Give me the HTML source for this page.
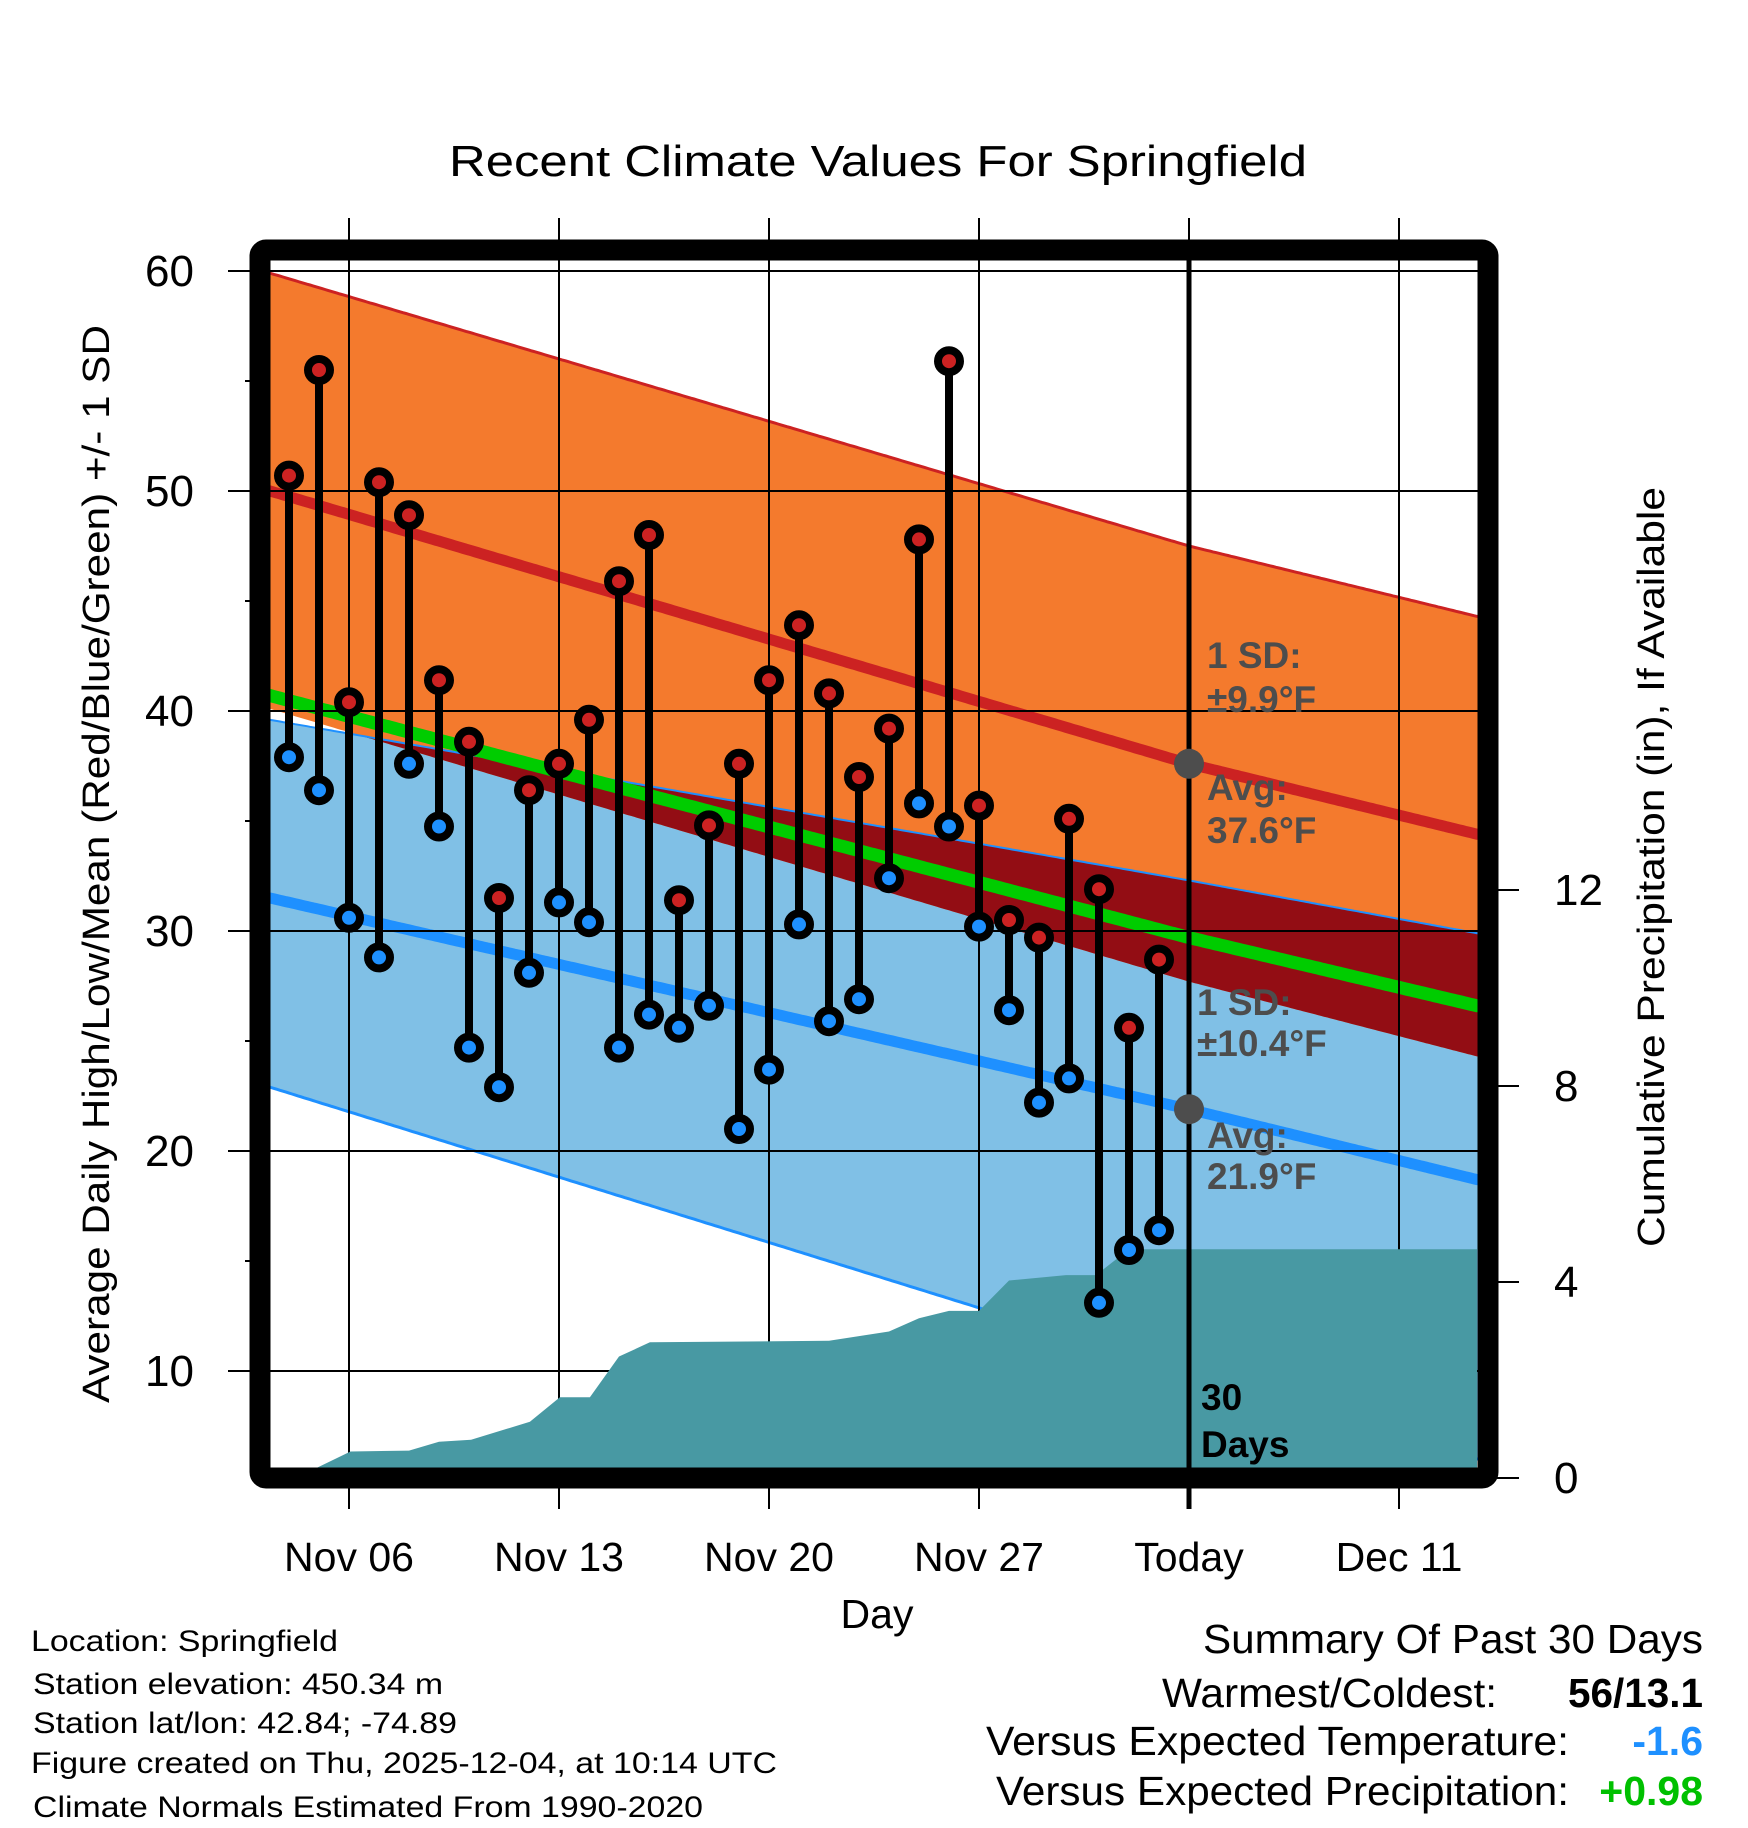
<!DOCTYPE html>
<html><head><meta charset="utf-8"><style>
html,body{margin:0;padding:0;background:#fff;}
svg{display:block;font-family:"Liberation Sans",sans-serif;}
</style></head><body>
<svg id="chart" width="1748" height="1828" viewBox="0 0 1748 1828" xmlns="http://www.w3.org/2000/svg">
<defs><clipPath id="plotclip"><rect x="270" y="260" width="1208" height="1208"/></clipPath></defs>
<text x="878" y="176" text-anchor="middle" font-size="44" textLength="858" lengthAdjust="spacingAndGlyphs">Recent Climate Values For Springfield</text>
<g id="fills" clip-path="url(#plotclip)"></g>
<g id="grid"></g>
<g id="precip" clip-path="url(#plotclip)"></g>
<g id="marks"></g>
<g id="annot"></g>
<rect x="260" y="250" width="1228" height="1228" rx="6" fill="none" stroke="#000" stroke-width="21"/>
<text transform="translate(109,864) rotate(-90)" text-anchor="middle" font-size="38" textLength="1078" lengthAdjust="spacingAndGlyphs">Average Daily High/Low/Mean (Red/Blue/Green) +/- 1 SD</text>
<text transform="translate(1664,867) rotate(-90)" text-anchor="middle" font-size="38" textLength="760" lengthAdjust="spacingAndGlyphs">Cumulative Precipitation (in), If Available</text>
<text x="877" y="1628" text-anchor="middle" font-size="41">Day</text>
<g font-size="30">
<text x="31" y="1651" textLength="307" lengthAdjust="spacingAndGlyphs">Location: Springfield</text>
<text x="33" y="1694" textLength="410" lengthAdjust="spacingAndGlyphs">Station elevation: 450.34 m</text>
<text x="33" y="1733" textLength="424" lengthAdjust="spacingAndGlyphs">Station lat/lon: 42.84; -74.89</text>
<text x="31" y="1773" textLength="746" lengthAdjust="spacingAndGlyphs">Figure created on Thu, 2025-12-04, at 10:14 UTC</text>
<text x="33" y="1817" textLength="670" lengthAdjust="spacingAndGlyphs">Climate Normals Estimated From 1990-2020</text>
</g>
<g font-size="41" text-anchor="end">
<text x="1703" y="1653" textLength="500" lengthAdjust="spacingAndGlyphs">Summary Of Past 30 Days</text>
<text x="1497" y="1707" textLength="335" lengthAdjust="spacingAndGlyphs">Warmest/Coldest:</text>
<text x="1703" y="1707" font-weight="bold" textLength="135" lengthAdjust="spacingAndGlyphs">56/13.1</text>
<text x="1569" y="1755" textLength="583" lengthAdjust="spacingAndGlyphs">Versus Expected Temperature:</text>
<text x="1703" y="1755" font-weight="bold" fill="#1e90ff">-1.6</text>
<text x="1569" y="1805" textLength="573" lengthAdjust="spacingAndGlyphs">Versus Expected Precipitation:</text>
<text x="1703" y="1805" font-weight="bold" fill="#00c000">+0.98</text>
</g>
</svg>
<script>
// ---- data ----
const dayNums = [4,5,6,7,8,9,10,11,12,13,14,15,16,17,18,19,20,21,22,23,24,25,26,27,28,29,30,31,32,33];
const highs = [50.7,55.5,40.4,50.4,48.9,41.4,38.6,31.5,36.4,37.6,39.6,45.9,48.0,31.4,34.8,37.6,41.4,43.9,40.8,37.0,39.2,47.8,55.9,35.7,30.5,29.7,35.1,31.9,25.6,28.7];
const lows = [37.9,36.4,30.6,28.8,37.6,34.75,24.7,22.9,28.1,31.3,30.4,24.7,26.2,25.6,26.6,21.0,23.7,30.3,25.9,26.9,32.4,35.8,34.75,30.2,26.4,22.2,23.3,13.1,15.5,16.4];
const normDays = [3.37,34,43.6];
const normHigh = [50.0,37.6,34.4];
const normHighPlus = [59.9,47.5,44.3];
const normHighMinus = [40.1,27.7,24.3];
const normLow = [31.5,21.9,18.7];
const normLowPlus = [39.6,32.3,29.9];
const normLowMinus = [22.9,9.9,6.0];
const normMean = [40.7,29.7,26.6];
const precipDays = [3.37,4.9,6.05,8.0,9.0,10.07,12.03,13.03,14.03,15.0,16.03,22.0,24.0,25.0,26.0,27.0,28.0,29.9,30.9,32.0,43.6];
const precipVals = [0,0.2,0.54,0.56,0.74,0.78,1.15,1.65,1.65,2.48,2.77,2.80,2.99,3.26,3.41,3.41,4.03,4.14,4.14,4.67,4.67];
const yTicks = [10,20,30,40,50,60];
const yMinor = [15,25,35,45,55];
const pTicks = [0,4,8,12];
const xTickDays = [6,13,20,27,34,41];
const xTickLabels = ["Nov 06","Nov 13","Nov 20","Nov 27","Today","Dec 11"];
const todayDay = 34;
const todayHighAvg = 37.6, todayLowAvg = 21.9;

// ---- scales ----
const X = d => 349 + (d - 6) * 30;
const Y = v => 271 + (60 - v) * 22;
const P = p => 1478 - p * 49;
const NS = "http://www.w3.org/2000/svg";
function mk(tag, attrs, parent){const el=document.createElementNS(NS,tag);for(const k in attrs)el.setAttribute(k,attrs[k]);parent.appendChild(el);return el;}
function interp(ds, vs, d){for(let i=0;i<ds.length-1;i++){if(d<=ds[i+1]){const t=(d-ds[i])/(ds[i+1]-ds[i]);return vs[i]+t*(vs[i+1]-vs[i]);}}return vs[vs.length-1];}
const sampleDays=[];for(let d=3.2;d<=43.8;d+=0.1)sampleDays.push(d);
function lineD(vs){return sampleDays.map((d,i)=>(i?'L':'M')+X(d).toFixed(1)+','+Y(interp(normDays,vs,d)).toFixed(1)).join('');}
function bandD(tp,bt){let s=sampleDays.map((d,i)=>(i?'L':'M')+X(d).toFixed(1)+','+Y(interp(normDays,tp,d)).toFixed(1)).join('');
 s+=sampleDays.slice().reverse().map(d=>'L'+X(d).toFixed(1)+','+Y(interp(normDays,bt,d)).toFixed(1)).join('');return s+'Z';}

const fills=document.getElementById('fills');
let e;
e=mk('path',{d:bandD(normLowPlus,normLowMinus),fill:'#80c0e6'},fills);


e=mk('path',{d:bandD(normHighPlus,normHighMinus),fill:'#f47a2d'},fills);


let ovTop=[],ovBot=[];
sampleDays.forEach(d=>{const t=Math.min(interp(normDays,normHighPlus,d),interp(normDays,normLowPlus,d));const b=Math.max(interp(normDays,normHighMinus,d),interp(normDays,normLowMinus,d));if(t>b){ovTop.push([X(d),Y(t)]);ovBot.push([X(d),Y(b)]);}});
if(ovTop.length){let s=ovTop.map((p,i)=>(i?'L':'M')+p[0].toFixed(1)+','+p[1].toFixed(1)).join('')+ovBot.reverse().map(p=>'L'+p[0].toFixed(1)+','+p[1].toFixed(1)).join('')+'Z';
e=mk('path',{d:s,fill:'#930d14'},fills);

}
const lines=[[normHighPlus,'#cc2222',3,'high-plus-sd-line'],[normLowPlus,'#1e90ff',2,'low-plus-sd-line'],[normLowMinus,'#1e90ff',3,'low-minus-sd-line'],[normHigh,'#cc2222',11,'mean-high-line'],[normLow,'#1e90ff',11,'mean-low-line'],[normMean,'#00cc00',13,'mean-temp-line']];
lines.forEach(L=>{e=mk('path',{d:lineD(L[0]),fill:'none',stroke:L[1],'stroke-width':L[2]},fills);

});

const grid=document.getElementById('grid');
yTicks.forEach(v=>{e=mk('line',{x1:228,x2:1478,y1:Y(v),y2:Y(v),stroke:'#000','stroke-width':2},grid);


e=mk('text',{x:194,y:Y(v)+15,'text-anchor':'end','font-size':44},grid);e.textContent=v;

});
yMinor.forEach(v=>{e=mk('line',{x1:245,x2:262,y1:Y(v),y2:Y(v),stroke:'#000','stroke-width':2},grid);

});
xTickDays.forEach((d,i)=>{e=mk('line',{x1:X(d),x2:X(d),y1:218,y2:1509,stroke:'#000','stroke-width':2},grid);


e=mk('text',{x:X(d),y:1571,'text-anchor':'middle','font-size':41},grid);e.textContent=xTickLabels[i];

});
pTicks.forEach(p=>{e=mk('line',{x1:1490,x2:1519,y1:P(p),y2:P(p),stroke:'#000','stroke-width':2},grid);


e=mk('text',{x:1554,y:P(p)+15,'font-size':44},grid);e.textContent=p;

});

const pg=document.getElementById('precip');
let ps=precipDays.map((d,i)=>(i?'L':'M')+X(d).toFixed(1)+','+P(precipVals[i]).toFixed(1)).join('');
ps+='L'+X(precipDays[precipDays.length-1])+',1480L'+X(precipDays[0])+',1480Z';
e=mk('path',{d:ps,fill:'#4899a3'},pg);



const marks=document.getElementById('marks');
e=mk('line',{x1:X(todayDay),x2:X(todayDay),y1:260,y2:1509,stroke:'#000','stroke-width':5},marks);


dayNums.forEach((d,i)=>{e=mk('line',{x1:X(d),x2:X(d),y1:Y(highs[i]),y2:Y(lows[i]),stroke:'#000','stroke-width':8},marks);

});
dayNums.forEach((d,i)=>{e=mk('circle',{cx:X(d),cy:Y(highs[i]),r:11,fill:'#cc2222',stroke:'#000','stroke-width':8},marks);


e=mk('circle',{cx:X(d),cy:Y(lows[i]),r:11,fill:'#1e90ff',stroke:'#000','stroke-width':8},marks);

});

const an=document.getElementById('annot');
e=mk('circle',{cx:X(todayDay),cy:Y(todayHighAvg),r:15,fill:'#4d4d4d'},an);


e=mk('circle',{cx:X(todayDay),cy:Y(todayLowAvg),r:15,fill:'#4d4d4d'},an);


const labs=[[1207,668,'1 SD:','high-sd-label'],[1207,712,'±9.9°F','high-sd-value'],[1207,800,'Avg:','high-avg-label'],[1207,843,'37.6°F','high-avg-value'],
[1197,1015,'1 SD:','low-sd-label'],[1197,1056,'±10.4°F','low-sd-value'],[1207,1148,'Avg:','low-avg-label'],[1207,1189,'21.9°F','low-avg-value']];
labs.forEach(l=>{e=mk('text',{x:l[0],y:l[1],'font-size':37,'font-weight':'bold',fill:'#4d4d4d'},an);e.textContent=l[2];

});
e=mk('text',{x:1201,y:1410,'font-size':37,'font-weight':'bold',fill:'#000'},an);e.textContent='30';


e=mk('text',{x:1201,y:1457,'font-size':37,'font-weight':'bold',fill:'#000'},an);e.textContent='Days';


</script>
</body></html>
